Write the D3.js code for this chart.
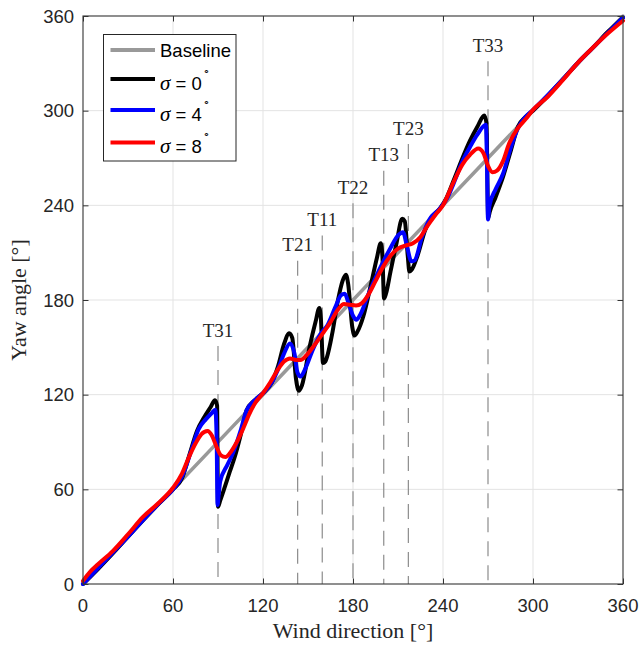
<!DOCTYPE html>
<html>
<head>
<meta charset="utf-8">
<title>Yaw angle vs wind direction</title>
<script src="https://d3js.org/d3.v7.min.js"></script>
<style>
	body { margin: 0; background: #fff; }
	.tick-label { font-family: 'Liberation Sans', Arial, sans-serif; font-size: 18.5px; fill: #262626; }
	.ax-label { font-family: 'Liberation Serif', 'Times New Roman', serif; font-size: 22px; fill: #262626; }
	.turb-label { font-family: 'Liberation Serif', 'Times New Roman', serif; font-size: 19px; fill: #262626; }
	.leg-text { font-family: 'Liberation Sans', Arial, sans-serif; font-size: 18.5px; fill: #000; }
</style>
</head>
<body>
<script>
// axis ticks
var xTicks = [0, 60, 120, 180, 240, 300, 360];
var yTicks = [0, 60, 120, 180, 240, 300, 360];

// turbines: name, wind direction, height of label (yaw units)
var turbineNames = ["T31", "T21", "T11", "T22", "T13", "T23", "T33"];
var turbineDirs = [90, 143.1, 159.5, 180, 200.5, 216.9, 270];
var turbineLabelY = [161, 215, 231, 251.5, 272, 289, 341.5];

// series [wind direction, yaw angle]
var baseline = [[0, 0], [360, 360]];

var sigma0 = [[0,0],[10,9.5],[20,19.5],[30,30],[40,40.5],[50,50.5],[60,60],[66,67],[71,82],[76,97],[81,106],[85,112],[88,116.5],[89.4,113],[90,49],[91.5,53],
	[94,60],[97.8,71],[101,80],[105,94],[109,110],[114,116],[120,121],[126,128],[130,138],[134,152],[137.5,159],[139.5,156],[142,130],[143.8,122.5],[146,126],
	[151,150],[155,166],[157.6,175],[158.6,168],[160,140],[161.5,141],[166,158],[170,180],[173,192],[175.3,196],[176.8,190],[179.5,163],[181,157.5],[183,160],
	[187,170],[192,190],[196,207],[198.5,216],[199.6,208],[200.7,181],[202,184],[205,198],[209,216],[212.8,231.5],[214.5,230],[216.5,208],[217.6,198],[219,199],
	[223,208],[228,224],[232,232],[238,238],[242,244],[248,258],[253,270],[258,281],[263,290],[267.5,297],[269,292],[270.1,232],[271.2,236],[275,245],
	[280,258],[285,274],[290,290],[295,296],[300,300],[310,309.5],[320,320],[330,330.5],[340,340],[350,350],[360,359]];

var sigma4 = [[0,0],[10,10],[20,20],[30,30],[40,40.5],[50,50.5],[60,60],[66,68],[72,84],[77,98],[82,104.5],[86,108.5],[88.2,110.5],[89.1,92],[89.7,50],[90.5,57],[91.5,65],
	[96,75],[100,83],[105,97],[109,110],[114,116],[120,121],[126,128],[130,136],[134,146],[138,152.5],[141,146],[143,134],[145,131.5],[148,136],
	[153,148],[158,158],[163,164],[168,175],[172,183],[174.5,184],[177,178],[180,170],[182.2,167.5],[185,171],[190,183],[195,194],[200,204],[205,213],
	[210,221],[213.3,223],[216,214],[218.9,204.5],[221,205],[226,220],[231,231],[238,238],[243,245],[248,256],[253,268],[258,277],[263,285],[268.6,291],
	[269.4,262],[270,231],[271,240],[275,250],[280,260],[285,276],[290,289],[295,296],[300,300.5],[310,310],[320,320],[330,330.5],[340,340],[350,349.5],[360,359]];

var sigma8 = [[0,2],[5,8],[10,12.5],[20,21],[30,31.5],[40,42.5],[50,51],[60,61],[66,70],[70,79],[75,89],[79,95],[83,97],[86,94],[89,87],[92,81.5],[95,80.5],
	[98,83],[102,89],[107,99],[111,108],[115,115],[120,121],[125,128],[130,136],[134,141],[138,143],[142,142],[145,142],[149,145],[154,151],[160,159],
	[165,166],[170,174],[174,177.5],[178,177],[182,176.5],[186,178],[190,183],[195,192],[200,201],[205,208],[210,212.5],[215,214.5],[220,216],[225,220],
	[229,226],[235,234],[240,240],[246.7,254],[253,266],[258,272],[263.5,276],[267,273],[270,265],[273,261],[276,262],[280,268],[284,279],[290,289],
	[295,294.5],[300,300.5],[310,309],[320,319.5],[330,330.5],[340,340],[350,349],[360,357]];

var legendLabels = ["Baseline", "0", "4", "8"];
var seriesColors = ["#999999", "#000000", "#0000ff", "#ff0000"];

// set the dimensions and margins of the graph
var margin = {top: 16, right: 19, bottom: 62, left: 83},
		width = 642 - margin.left - margin.right,
		height = 646 - margin.top - margin.bottom;

var svg = d3.select("body").append("svg")
		.attr("width", 642)
		.attr("height", 646);

var g = svg.append("g")
		.attr("transform", "translate(" + margin.left + "," + margin.top + ")");

var x = d3.scaleLinear().domain([0, 360]).range([0, width]);
var y = d3.scaleLinear().domain([0, 360]).range([height, 0]);

// grid
g.append("g").selectAll("line")
	.data(xTicks.slice(1, -1))
	.enter().append("line")
	.attr("x1", function(d){ return x(d); }).attr("x2", function(d){ return x(d); })
	.attr("y1", 0).attr("y2", height)
	.style("stroke", "#e3e3e3").style("stroke-width", 1);
g.append("g").selectAll("line")
	.data(yTicks.slice(1, -1))
	.enter().append("line")
	.attr("y1", function(d){ return y(d); }).attr("y2", function(d){ return y(d); })
	.attr("x1", 0).attr("x2", width)
	.style("stroke", "#e3e3e3").style("stroke-width", 1);

// turbine dashed lines and labels
var turb = g.append("g").selectAll("g")
	.data(turbineNames)
	.enter().append("g");
turb.append("line")
	.attr("x1", function(d, i){ return x(turbineDirs[i]); })
	.attr("x2", function(d, i){ return x(turbineDirs[i]); })
	.attr("y1", function(d, i){ return y(turbineLabelY[i]) + 16; })
	.attr("y2", height)
	.style("stroke", "#8c8c8c").style("stroke-width", 1.2)
	.style("stroke-dasharray", "15,9");
turb.append("text")
	.attr("class", "turb-label")
	.attr("x", function(d, i){ return x(turbineDirs[i]); })
	.attr("y", function(d, i){ return y(turbineLabelY[i]); })
	.attr("dy", "0.35em")
	.attr("text-anchor", "middle")
	.text(function(d){ return d; });

// curves
var line = d3.line()
	.x(function(d){ return x(d[0]); })
	.y(function(d){ return y(d[1]); })
	.curve(d3.curveMonotoneX);

var series = [baseline, sigma0, sigma4, sigma8];
g.append("g").selectAll("path")
	.data(series)
	.enter().append("path")
	.attr("d", line)
	.style("fill", "none")
	.style("stroke", function(d, i){ return seriesColors[i]; })
	.style("stroke-width", function(d, i){ return i == 0 ? 3.5 : 4; })
	.style("stroke-linejoin", "round")
	.style("stroke-linecap", "round");

// axes box with inward ticks (all four sides)
var axisColor = "#333";
g.append("rect")
	.attr("width", width).attr("height", height)
	.style("fill", "none").style("stroke", axisColor).style("stroke-width", 1.1);

var tickLen = 5.5;
g.append("g").call(d3.axisBottom(x).tickValues(xTicks).tickSize(-tickLen).tickFormat(""))
	.attr("transform", "translate(0," + height + ")");
g.append("g").call(d3.axisTop(x).tickValues(xTicks).tickSize(-tickLen).tickFormat(""));
g.append("g").call(d3.axisLeft(y).tickValues(yTicks).tickSize(-tickLen).tickFormat(""));
g.append("g").call(d3.axisRight(y).tickValues(yTicks).tickSize(-tickLen).tickFormat(""))
	.attr("transform", "translate(" + width + ",0)");
g.selectAll(".domain").remove();
g.selectAll(".tick line").style("stroke", axisColor);

// tick labels
g.append("g").selectAll("text")
	.data(xTicks)
	.enter().append("text")
	.attr("class", "tick-label")
	.attr("x", function(d){ return x(d); })
	.attr("y", height + 28)
	.attr("text-anchor", "middle")
	.text(function(d){ return d; });
g.append("g").selectAll("text")
	.data(yTicks)
	.enter().append("text")
	.attr("class", "tick-label")
	.attr("x", -9)
	.attr("y", function(d){ return y(d); })
	.attr("dy", "0.36em")
	.attr("text-anchor", "end")
	.text(function(d){ return d; });

// axis labels
svg.append("text")
	.attr("class", "ax-label")
	.attr("x", margin.left + width / 2)
	.attr("y", 638)
	.attr("text-anchor", "middle")
	.text("Wind direction [°]");
svg.append("text")
	.attr("class", "ax-label")
	.attr("transform", "translate(26," + (margin.top + height / 2) + ") rotate(-90)")
	.attr("text-anchor", "middle")
	.text("Yaw angle [°]");

// legend
var leg = svg.append("g").attr("transform", "translate(103.5,34.5)");
leg.append("rect")
	.attr("width", 132.5).attr("height", 126.5)
	.style("fill", "#fff").style("stroke", "#262626").style("stroke-width", 1);
var legRow = [15.5, 44.5, 75.5, 108];
var item = leg.selectAll(".item")
	.data(legendLabels)
	.enter().append("g")
	.attr("transform", function(d, i){ return "translate(0," + legRow[i] + ")"; });
item.append("line")
	.attr("x1", 7).attr("x2", 51.5)
	.attr("y1", 0).attr("y2", 0)
	.style("stroke", function(d, i){ return seriesColors[i]; })
	.style("stroke-width", 4);
item.each(function(d, i){
	var t = d3.select(this).append("text")
		.attr("class", "leg-text")
		.attr("x", 56.5);
	if (i == 0) {
		t.attr("y", 7).text(d);
	} else {
		t.attr("y", 10.5);
		t.append("tspan")
			.style("font-family", "'Liberation Serif', serif")
			.style("font-style", "italic")
			.style("font-size", "21px")
			.text("σ");
		t.append("tspan").text(" = " + d);
		t.append("tspan")
			.attr("dy", -15)
			.attr("dx", 1)
			.style("font-size", "11px")
			.text("∘");
	}
});
</script>
</body>
</html>
